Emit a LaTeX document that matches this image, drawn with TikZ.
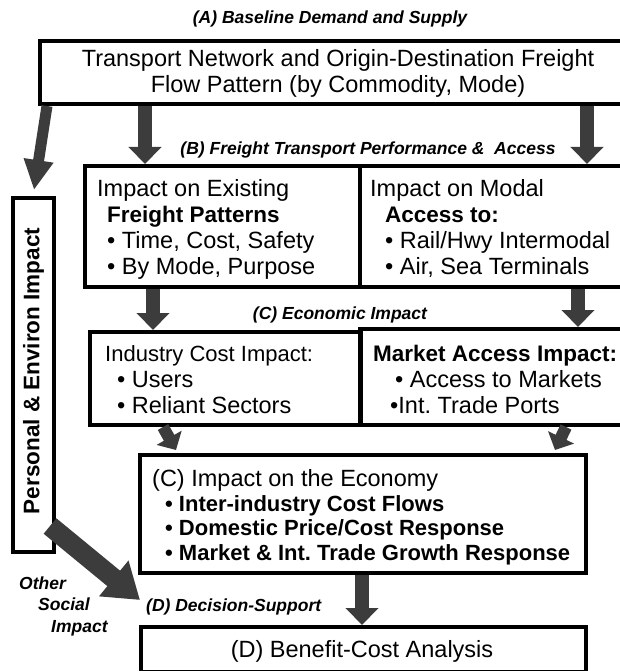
\documentclass[tikz,border=0pt]{standalone}
\usepackage{fontspec}
\setmainfont{Liberation Sans}
\usetikzlibrary{arrows.meta,fit,calc}
\definecolor{agray}{HTML}{3C3C3C}
\frenchspacing
\begin{document}
\begin{tikzpicture}[x=1pt,y=-1pt,
  box/.style={draw=black, line width=4pt, inner sep=0pt, rectangle},
  fat/.style={draw=agray, line width=14pt, -{Triangle[length=17pt,width=32pt]}},
  slim/.style={draw=agray, line width=12pt, -{Triangle[length=14pt,width=28pt]}},
  txt/.style={anchor=base west, inner sep=0pt, font=\fontsize{23.5}{26}\selectfont},
  btxt/.style={txt, font=\fontsize{22.5}{26}\selectfont\bfseries},
  ttl/.style={inner sep=0pt, font=\fontsize{17.5}{19}\selectfont\bfseries\itshape}]
\useasboundingbox (0,0) rectangle (619,671);
% boxes
\node[box, fit={(40,41) (625,104)}] (top) {};
\node[box, fit={(85,166) (360,287)}] (bl) {};
\node[box, fit={(360,166) (625,287)}] (br) {};
\node[box, fit={(90,332) (361,425)}] (cl) {};
\node[box, fit={(360,329) (625,425)}] (cr) {};
\node[box, fit={(140,455) (586,573)}] (econ) {};
\node[box, fit={(141,627) (586,672)}] (dbox) {};
\node[box, fit={(13,198) (54,552)}] (pers) {};
% titles
\node[ttl] (ta) at (330,19) {(A) Baseline Demand and Supply};
\node[ttl] (tb) at (368,150) {(B) Freight Transport Performance \&\ \ Access};
\node[ttl] (tc) at (340,315) {(C) Economic Impact};
\node[ttl, anchor=west] (td) at (146,607) {(D) Decision-Support};
\node[ttl, anchor=west] (oth1) at (19,583) {Other};
\node[ttl, anchor=west] (oth2) at (38,604) {Social};
\node[ttl, anchor=west] (oth3) at (51,628) {Impact};
% texts
\node[align=center, inner sep=0pt, font=\fontsize{23.5}{26}\selectfont] (ttop) at (338,73) {Transport Network and Origin-Destination Freight\\Flow Pattern (by Commodity, Mode)};
\node[txt] (b1) at (97,196) {Impact on Existing};
\node[btxt] (b2) at (107,222) {Freight Patterns};
\node[txt] (b3) at (107,248) {\textbullet\ Time, Cost, Safety};
\node[txt] (b4) at (107,274) {\textbullet\ By Mode, Purpose};
\node[txt] (r1) at (370,196) {Impact on Modal};
\node[btxt] (r2) at (385,222) {Access to:};
\node[txt] (r3) at (385,248) {\textbullet\ Rail/Hwy Intermodal};
\node[txt] (r4) at (385,274) {\textbullet\ Air, Sea Terminals};
\node[txt, font=\fontsize{22}{26}\selectfont] (c1) at (105,361) {Industry Cost Impact:};
\node[txt] (c2) at (117,387) {\textbullet\ Users};
\node[txt] (c3) at (117,413) {\textbullet\ Reliant Sectors};
\node[btxt] (m1) at (373,361) {Market Access Impact:};
\node[txt] (m2) at (395,387) {\textbullet\ Access to Markets};
\node[txt] (m3) at (390,413) {\textbullet Int.\ Trade Ports};
\node[txt] (e1) at (152,486) {(C) Impact on the Economy};
\node[btxt, font=\fontsize{22}{25}\selectfont\bfseries] (e2) at (165,511) {\textbullet\ Inter-industry Cost Flows};
\node[btxt, font=\fontsize{22}{25}\selectfont\bfseries] (e3) at (165,535) {\textbullet\ Domestic Price/Cost Response};
\node[btxt, font=\fontsize{22}{25}\selectfont\bfseries] (e4) at (165,560) {\textbullet\ Market \& Int.\ Trade Growth Response};
\node[inner sep=0pt, font=\fontsize{23.5}{26}\selectfont] (dtxt) at (362,651) {(D) Benefit-Cost Analysis};
\node[inner sep=0pt, rotate=90, font=\fontsize{22.5}{26}\selectfont\bfseries] (ptxt) at ([yshift=4pt]pers.center) {Personal \& Environ Impact};
% connector coordinates
\coordinate (x1) at (145,0);
\coordinate (x2) at (587,0);
\coordinate (x3) at (153,0);
\coordinate (x4) at (578,0);
\coordinate (x5s) at (163,0);
\coordinate (x5e) at (176,0);
\coordinate (x6s) at (566,0);
\coordinate (x6e) at (555,0);
\coordinate (x7) at (362,0);
\coordinate (xls) at (47,0);
\coordinate (lend) at (34,190);
\coordinate (bigs) at (50,526);
% connectors
\draw[fat] (top.south -| x1) -- (bl.north -| x1);
\draw[fat] (top.south -| x2) -- (br.north -| x2);
\draw[fat] (bl.south -| x3) -- (cl.north -| x3);
\draw[fat] (br.south -| x4) -- (cr.north -| x4);
\draw[slim] (cl.south -| x5s) -- ([yshift=3pt]econ.north -| x5e);
\draw[slim] (cr.south -| x6s) -- ([yshift=3pt]econ.north -| x6e);
\draw[fat] (econ.south -| x7) -- (dbox.north -| x7);
\draw[draw=agray, line width=11pt, -{Triangle[length=30pt,width=28pt]}] (top.south -| xls) -- (lend);
\draw[draw=agray, line width=20pt, -{Triangle[length=34pt,width=44pt]}] (bigs) -- ([xshift=-6pt,yshift=7pt]td.west);
\end{tikzpicture}
\end{document}
